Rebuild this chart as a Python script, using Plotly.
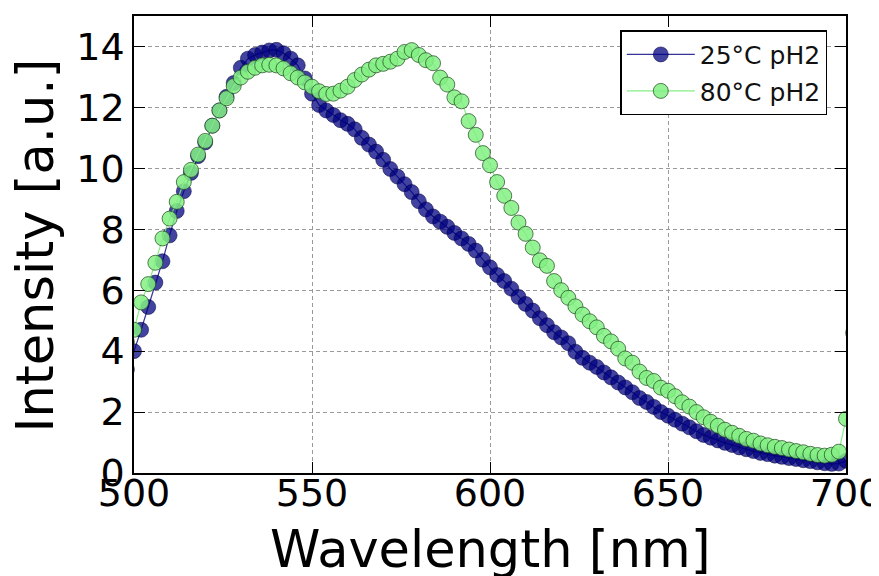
import plotly.graph_objects as go

wavelength_25 = [498, 500, 502, 504, 506, 508, 510, 512, 514, 516, 518, 520, 522, 524, 526, 528,
                 530, 532, 534, 536, 538, 540, 542, 544, 546, 548, 550, 552, 554, 556, 558, 560,
                 562, 564, 566, 568, 570, 572, 574, 576, 578, 580, 582, 584, 586, 588, 590, 592,
                 594, 596, 598, 600, 602, 604, 606, 608, 610, 612, 614, 616, 618, 620, 622, 624,
                 626, 628, 630, 632, 634, 636, 638, 640, 642, 644, 646, 648, 650, 652, 654, 656,
                 658, 660, 662, 664, 666, 668, 670, 672, 674, 676, 678, 680, 682, 684, 686, 688,
                 690, 692, 694, 696, 698, 700]
intensity_25 = [3.4, 4.0, 4.7, 5.45, 6.25, 6.95, 7.8, 8.6, 9.25, 9.85, 10.4, 10.85, 11.4, 11.9, 12.35, 12.8,
                13.3, 13.6, 13.72, 13.8, 13.87, 13.89, 13.78, 13.6, 13.38, 12.95, 12.45, 12.08, 11.9, 11.75, 11.58, 11.46,
                11.28, 11.0, 10.78, 10.55, 10.28, 9.98, 9.73, 9.48, 9.22, 8.92, 8.65, 8.42, 8.25, 8.08, 7.88, 7.7,
                7.52, 7.3, 7.0, 6.75, 6.5, 6.3, 6.05, 5.78, 5.55, 5.33, 5.08, 4.85, 4.62, 4.45, 4.26, 3.98,
                3.78, 3.62, 3.48, 3.3, 3.14, 2.97, 2.81, 2.65, 2.46, 2.33, 2.17, 2.0, 1.88, 1.75, 1.62, 1.5,
                1.37, 1.25, 1.16, 1.07, 0.99, 0.92, 0.84, 0.78, 0.72, 0.66, 0.62, 0.57, 0.53, 0.49, 0.46, 0.42,
                0.39, 0.35, 0.32, 0.3, 0.31, 0.4]

wavelength_80 = [498, 500, 502, 504, 506, 508, 510, 512, 514, 516, 518, 520, 522, 524, 526, 528,
                 530, 532, 534, 536, 538, 540, 542, 544, 546, 548, 550, 552, 554, 556, 558, 560,
                 562, 564, 566, 568, 570, 572, 574, 576, 578, 580, 582, 584, 586, 588, 590, 592,
                 594, 596, 598, 600, 602, 604, 606, 608, 610, 612, 614, 616, 618, 620, 622, 624,
                 626, 628, 630, 632, 634, 636, 638, 640, 642, 644, 646, 648, 650, 652, 654, 656,
                 658, 660, 662, 664, 666, 668, 670, 672, 674, 676, 678, 680, 682, 684, 686, 688,
                 690, 692, 694, 696, 698, 700, 702]
intensity_80 = [4.3, 4.7, 5.6, 6.2, 6.9, 7.7, 8.35, 8.9, 9.55, 9.95, 10.45, 10.9, 11.4, 11.9, 12.3, 12.7,
                12.98, 13.17, 13.3, 13.38, 13.4, 13.38, 13.28, 13.12, 12.98, 12.82, 12.68, 12.53, 12.44, 12.45, 12.55, 12.68,
                12.9, 13.08, 13.24, 13.38, 13.43, 13.5, 13.6, 13.82, 13.88, 13.72, 13.55, 13.45, 12.98, 12.75, 12.33, 12.2,
                11.55, 11.1, 10.5, 10.1, 9.55, 9.1, 8.7, 8.22, 7.85, 7.4, 6.98, 6.8, 6.3, 6.0, 5.75, 5.47,
                5.2, 4.98, 4.78, 4.5, 4.32, 4.08, 3.76, 3.62, 3.33, 3.12, 3.02, 2.8, 2.7, 2.52, 2.32, 2.18,
                2.0, 1.83, 1.68, 1.55, 1.42, 1.32, 1.22, 1.12, 1.06, 0.97, 0.91, 0.86, 0.82, 0.77, 0.72, 0.68,
                0.63, 0.59, 0.57, 0.6, 0.7, 1.78, 4.6]

x_ticks = [500, 550, 600, 650, 700]
y_ticks = [0, 2, 4, 6, 8, 10, 12, 14]
x_title = "Wavelength [nm]"
y_title = "Intensity [a.u.]"

FONT = "DejaVu Sans"

fig = go.Figure()
fig.add_trace(go.Scatter(
    x=wavelength_25, y=intensity_25, mode="lines+markers", name="25°C pH2", legendgroup="a",
    line=dict(color="rgba(0,0,128,0.8)", width=1.2),
    marker=dict(size=15, color="rgba(0,0,128,0.74)",
                line=dict(color="rgba(0,0,60,0.5)", width=1)),
))
fig.add_trace(go.Scatter(
    x=wavelength_80, y=intensity_80, mode="lines+markers", name="80°C pH2", legendgroup="b",
    line=dict(color="rgba(120,235,120,0.9)", width=1.2),
    marker=dict(size=15, color="rgba(130,240,130,0.85)",
                line=dict(color="rgba(30,70,30,0.7)", width=1)),
))

axis_common = dict(
    showline=True, linecolor="black", linewidth=1.6, mirror="ticks",
    ticks="inside", ticklen=11, tickwidth=1.2, tickcolor="black",
    showgrid=True, gridcolor="#9a9a9a", gridwidth=1, griddash="4px,3px",
    zeroline=False, tickfont=dict(family=FONT, size=38, color="black"),
    automargin=False, ticklabeloverflow="allow",
)

fig.update_xaxes(range=[500, 700], tickvals=x_ticks, ticklabelstandoff=-14, **axis_common)
fig.update_yaxes(range=[0, 15], tickvals=y_ticks, **axis_common)

fig.add_annotation(text=x_title, xref="paper", yref="paper", x=0.5, y=-0.168,
                   xanchor="center", yanchor="middle", showarrow=False,
                   font=dict(family=FONT, size=51, color="black"))
fig.add_annotation(text=y_title, xref="paper", yref="paper", x=-0.138, y=0.497,
                   xanchor="center", yanchor="middle", showarrow=False, textangle=-90,
                   font=dict(family=FONT, size=51, color="black"))

fig.update_layout(
    width=879, height=576,
    margin=dict(l=126, r=41, t=8, b=111, autoexpand=False),
    paper_bgcolor="white", plot_bgcolor="white",
    showlegend=True,
    legend=dict(x=0.683, y=0.969, xanchor="left", yanchor="top",
                bgcolor="white", bordercolor="black", borderwidth=1.5,
                font=dict(family=FONT, size=25, color="#111"),
                itemwidth=68, tracegroupgap=1, traceorder="grouped"),
)

fig.write_html("out.html")
